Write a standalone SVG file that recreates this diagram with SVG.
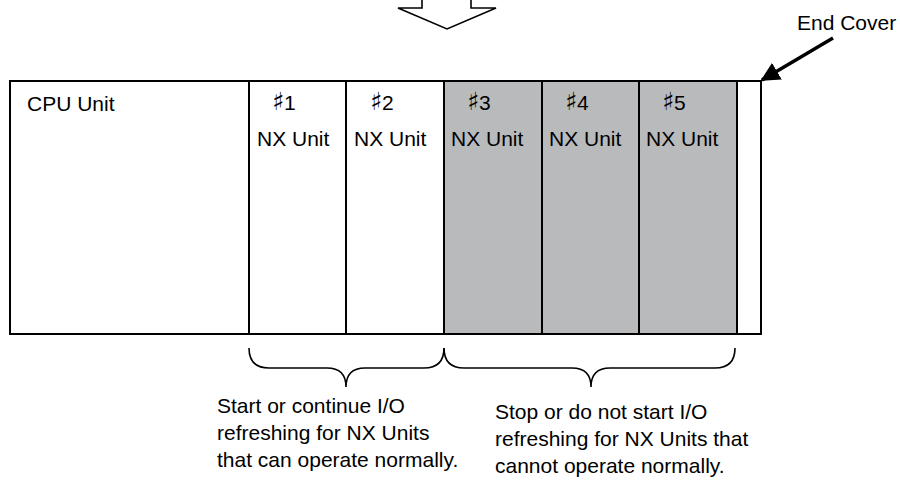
<svg xmlns="http://www.w3.org/2000/svg" width="900" height="481" viewBox="0 0 900 481">
<style>
text{font-family:"Liberation Sans",Arial,sans-serif;font-size:21px;fill:#000}
.s{font-family:"DejaVu Sans",sans-serif;font-size:25px}
.u{stroke:#000;stroke-width:2;fill:#fff}
.g{fill:#b9babc}
.br{fill:none;stroke:#000;stroke-width:1.6}
</style>
<defs>
<marker id="ah" viewBox="0 0 10 10" refX="9" refY="5" markerWidth="5.5" markerHeight="5.5" orient="auto" markerUnits="strokeWidth">
<path d="M0,0 L10,5 L0,10 z" fill="#000"/>
</marker>
</defs>
<g id="top-arrow">
<path d="M422,-2 L422,8 L398,8 L447,29 L496,8 L471,8 L471,-2" fill="#fff" stroke="#000" stroke-width="1.6"/>
</g>
<g id="cpu-unit">
<rect class="u" x="10" y="81" width="239" height="253"/>
<text x="27" y="111">CPU Unit</text>
</g>
<g id="nx1">
<rect class="u" x="249" y="81" width="97" height="253"/>
<text x="272" y="110"><tspan class="s">♯</tspan>1</text>
<text x="257" y="146">NX Unit</text>
</g>
<g id="nx2">
<rect class="u" x="346" y="81" width="98" height="253"/>
<text x="370" y="110"><tspan class="s">♯</tspan>2</text>
<text x="354" y="146">NX Unit</text>
</g>
<g id="nx3">
<rect class="u g" x="444" y="81" width="98" height="253"/>
<text x="467" y="110"><tspan class="s">♯</tspan>3</text>
<text x="451" y="146">NX Unit</text>
</g>
<g id="nx4">
<rect class="u g" x="542" y="81" width="97" height="253"/>
<text x="565" y="110"><tspan class="s">♯</tspan>4</text>
<text x="549" y="146">NX Unit</text>
</g>
<g id="nx5">
<rect class="u g" x="639" y="81" width="98" height="253"/>
<text x="662" y="110"><tspan class="s">♯</tspan>5</text>
<text x="646" y="146">NX Unit</text>
</g>
<g id="end-cover">
<rect class="u" x="737" y="81" width="24" height="253"/>
<text x="797" y="30">End Cover</text>
</g>
<g id="connectors">
<line x1="833" y1="38" x2="762" y2="80" stroke="#000" stroke-width="3.5" marker-end="url(#ah)"/>
<path class="br" d="M249,348 Q249,368 269,368 L327,368 Q346,368 346,387 Q346,368 365,368 L424,368 Q444,368 444,348"/>
<path class="br" d="M444,348 Q444,368 464,368 L572,368 Q591,368 591,387 Q591,368 610,368 L715,368 Q735,368 735,348"/>
</g>
<g id="labels">
<text x="217" y="413">Start or continue I/O</text>
<text x="217" y="440">refreshing for NX Units</text>
<text x="217" y="467">that can operate normally.</text>
<text x="495" y="419">Stop or do not start I/O</text>
<text x="495" y="446">refreshing for NX Units that</text>
<text x="495" y="473">cannot operate normally.</text>
</g>
</svg>
